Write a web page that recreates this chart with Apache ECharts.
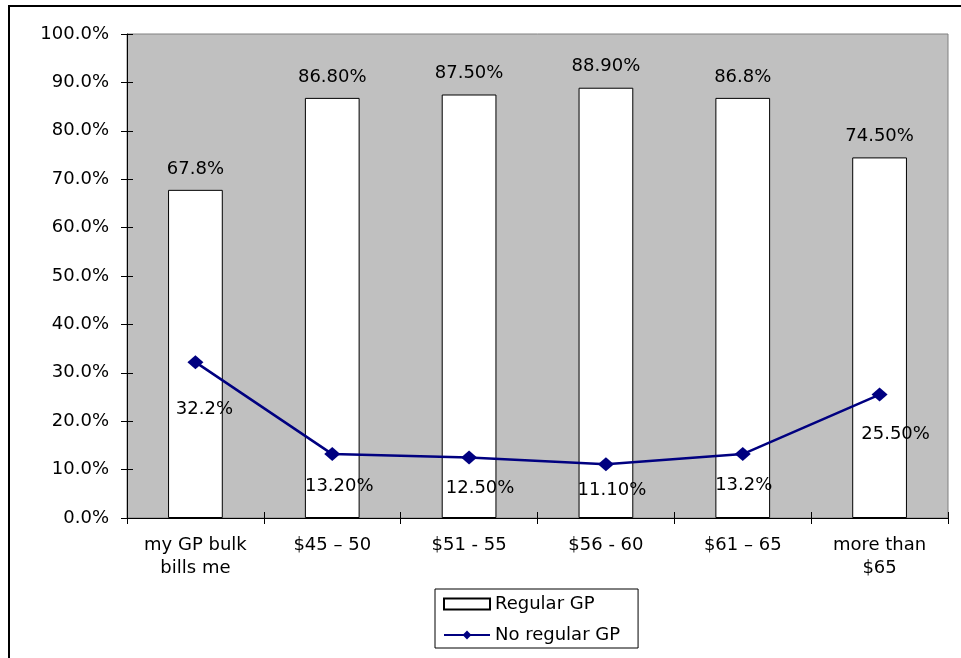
<!DOCTYPE html>
<html>
<head>
<meta charset="utf-8">
<title>GP fees: regular GP vs no regular GP</title>
<script src="https://cdn.jsdelivr.net/npm/echarts@6/dist/echarts.min.js"></script>
<style>
  html, body { margin: 0; padding: 0; background: #ffffff; }
  #chart { width: 961px; height: 658px; }
</style>
</head>
<body>
<div id="chart"></div>
<script>
// Fee categories along the x axis
const categories = ['my GP bulk\nbills me', '$45 \u2013 50', '$51 - 55', '$56 - 60', '$61 \u2013 65', 'more than\n$65'];

// Share of respondents (%) in each fee band
const regularGP = [67.8, 86.8, 87.5, 88.9, 86.8, 74.5];
const noRegularGP = [32.2, 13.2, 12.5, 11.1, 13.2, 25.5];

// Decimal places shown in each value label
const regularDecimals = [1, 2, 2, 2, 1, 2];
const noRegularDecimals = [1, 2, 2, 2, 1, 2];

// Value axis ticks
const yMin = 0, yMax = 100, yStep = 10;

// Where each line label sits relative to its marker (px)
const lineLabelOffsets = [[9, 47], [7, 32], [11, 31], [6, 26], [1, 31], [16, 40]];

const FONT = 'DejaVu Sans';
const TXT = { fontFamily: FONT, fontSize: 18, color: '#000' };

const chart = echarts.init(document.getElementById('chart'), null, { renderer: 'canvas' });

const option = {
  animation: false,
  backgroundColor: '#ffffff',
  textStyle: { fontFamily: FONT },
  graphic: [{
    type: 'rect',
    shape: { x: 9, y: 6, width: 1200, height: 1200 },
    style: { fill: 'none', stroke: '#000', lineWidth: 2 },
    silent: true,
    z: 100
  }],
  grid: {
    left: 127, top: 34, right: 13, bottom: 140,
    show: true,
    backgroundColor: '#C0C0C0',
    borderColor: '#808080',
    borderWidth: 1
  },
  legend: {
    orient: 'vertical',
    left: 435, top: 589,
    padding: [6, 18, 4, 8],
    itemGap: 13,
    itemWidth: 46,
    itemHeight: 11,
    itemTextGap: 5,
    borderColor: '#000',
    borderWidth: 1,
    backgroundColor: '#fff',
    textStyle: Object.assign({}, TXT),
    data: [
      { name: 'Regular GP', icon: 'rect' },
      { name: 'No regular GP' }
    ]
  },
  xAxis: [{
    type: 'category',
    data: categories,
    boundaryGap: true,
    axisLine: { show: true, lineStyle: { color: '#000', width: 1 } },
    axisTick: { show: true, length: 6, lineStyle: { color: '#000' } },
    axisLabel: Object.assign({ margin: 16, lineHeight: 23, interval: 0 }, TXT),
    splitLine: { show: false }
  }, {
    type: 'category',
    data: categories,
    position: 'bottom',
    boundaryGap: true,
    axisLine: { show: false },
    axisTick: { show: true, inside: true, length: 6, lineStyle: { color: '#000' } },
    axisLabel: { show: false },
    splitLine: { show: false }
  }],
  yAxis: [{
    type: 'value',
    min: yMin, max: yMax, interval: yStep,
    axisLine: { show: true, lineStyle: { color: '#000', width: 1 } },
    axisTick: { show: true, length: 6, lineStyle: { color: '#000' } },
    axisLabel: Object.assign({ margin: 18, formatter: v => v.toFixed(1) + '%' }, TXT),
    splitLine: { show: false }
  }, {
    type: 'value',
    position: 'left',
    min: yMin, max: yMax, interval: yStep,
    axisLine: { show: false },
    axisTick: { show: true, inside: true, length: 6, lineStyle: { color: '#000' } },
    axisLabel: { show: false },
    splitLine: { show: false }
  }],
  series: [{
    name: 'Regular GP',
    type: 'bar',
    xAxisIndex: 0, yAxisIndex: 0,
    barWidth: '40%',
    itemStyle: { color: '#ffffff', borderColor: '#000', borderWidth: 1 },
    label: Object.assign({
      show: true,
      position: 'top',
      distance: 12,
      formatter: p => p.value.toFixed(regularDecimals[p.dataIndex]) + '%'
    }, TXT),
    data: regularGP,
    z: 2
  }, {
    name: 'No regular GP',
    type: 'line',
    xAxisIndex: 0, yAxisIndex: 0,
    symbol: 'diamond',
    symbolSize: [16, 14],
    lineStyle: { color: '#000080', width: 2.5 },
    itemStyle: { color: '#000080' },
    label: Object.assign({
      show: true,
      position: 'inside',
      formatter: p => p.value.toFixed(noRegularDecimals[p.dataIndex]) + '%'
    }, TXT),
    data: noRegularGP.map((v, i) => ({
      value: v,
      label: { offset: lineLabelOffsets[i] }
    })),
    z: 3
  }]
};

chart.setOption(option);
</script>
</body>
</html>
